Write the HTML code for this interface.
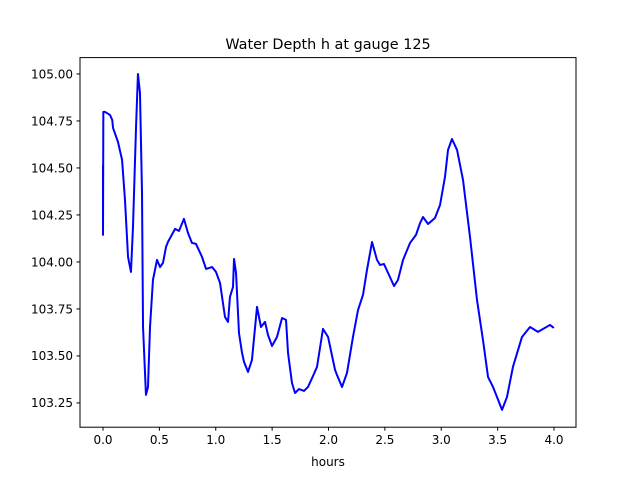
<!DOCTYPE html>
<html><head><meta charset="utf-8"><style>
html,body{margin:0;padding:0;background:#fff;}
svg{display:block;font-family:"DejaVu Sans","Liberation Sans",sans-serif;}
</style></head><body>
<svg id="chart" width="640" height="480" viewBox="0 0 640 480">
<rect width="640" height="480" fill="#fff"/>
<text x="328" y="49" font-size="14.4" text-anchor="middle">Water Depth h at gauge 125</text>
<g id="xticks"></g>
<g id="yticks"></g>
<polyline id="line" fill="none" stroke="#0000ff" stroke-width="2" stroke-linejoin="round"/>
<rect x="80" y="57.6" width="496" height="369.6" fill="none" stroke="#000" stroke-width="1"/>
<text x="328" y="466" font-size="12" text-anchor="middle">hours</text>
</svg>
<script>
const hours = [0,0,0.003,0.018,0.062,0.082,0.089,0.133,0.169,0.195,0.222,0.248,0.266,0.293,0.310,0.328,0.346,0.355,0.381,0.399,0.417,0.443,0.479,0.506,0.532,0.559,0.576,0.639,0.674,0.718,0.754,0.789,0.825,0.878,0.914,0.967,1.002,1.038,1.082,1.109,1.126,1.153,1.162,1.180,1.206,1.233,1.251,1.286,1.321,1.366,1.401,1.437,1.463,1.499,1.543,1.588,1.623,1.641,1.676,1.703,1.738,1.783,1.818,1.863,1.898,1.951,1.996,2.058,2.075,2.120,2.164,2.217,2.262,2.306,2.341,2.386,2.430,2.457,2.492,2.528,2.581,2.616,2.661,2.723,2.776,2.812,2.838,2.883,2.944,2.989,3.033,3.060,3.095,3.140,3.193,3.255,3.317,3.370,3.415,3.459,3.494,3.539,3.583,3.636,3.716,3.787,3.858,3.964,3.999];
const depth = [104.516,104.144,104.798,104.798,104.782,104.755,104.713,104.638,104.543,104.330,104.027,103.947,104.186,104.718,105.000,104.899,104.367,103.654,103.293,103.335,103.654,103.904,104.011,103.973,103.995,104.080,104.106,104.176,104.165,104.229,104.154,104.101,104.096,104.027,103.963,103.973,103.947,103.888,103.707,103.681,103.814,103.867,104.016,103.941,103.622,103.516,103.468,103.415,103.479,103.761,103.654,103.681,103.612,103.553,103.601,103.702,103.692,103.516,103.356,103.303,103.324,103.314,103.335,103.394,103.442,103.644,103.601,103.426,103.399,103.335,103.410,103.601,103.745,103.825,103.957,104.106,104.011,103.984,103.989,103.942,103.872,103.904,104.011,104.101,104.144,104.207,104.239,104.202,104.234,104.303,104.452,104.596,104.654,104.596,104.436,104.133,103.798,103.585,103.388,103.335,103.282,103.213,103.282,103.442,103.601,103.654,103.628,103.665,103.649];
const xTickVals = [0,0.5,1,1.5,2,2.5,3,3.5,4];
const xTickLabels = ["0.0","0.5","1.0","1.5","2.0","2.5","3.0","3.5","4.0"];
const yTickVals = [103.25,103.5,103.75,104,104.25,104.5,104.75,105];
const yTickLabels = ["103.25","103.50","103.75","104.00","104.25","104.50","104.75","105.00"];

const X0=80,X1=576,Y0=57.6,Y1=427.2;
const xMin=-0.204,xMax=4.195,yMin=103.121,yMax=105.087;
const sx=v=>X0+(v-xMin)/(xMax-xMin)*(X1-X0);
const sy=v=>Y1-(v-yMin)/(yMax-yMin)*(Y1-Y0);
const NS="http://www.w3.org/2000/svg";

const line=document.getElementById('line');
line.setAttribute('points',hours.map((h,i)=>sx(h).toFixed(2)+','+sy(depth[i]).toFixed(2)).join(' '));

const xg=document.getElementById('xticks');
xTickVals.forEach((v,i)=>{
  const x=sx(v);
  const t=document.createElementNS(NS,'line');
  
  
  t.setAttribute('x1',x);t.setAttribute('x2',x);t.setAttribute('y1',Y1);t.setAttribute('y2',Y1+3.5);
  t.setAttribute('stroke','#000');
  xg.appendChild(t);
  const tx=document.createElementNS(NS,'text');
  
  
  tx.setAttribute('x',x);tx.setAttribute('y',Y1+17);
  tx.setAttribute('font-size','12');tx.setAttribute('text-anchor','middle');
  tx.textContent=xTickLabels[i];
  xg.appendChild(tx);
});
const yg=document.getElementById('yticks');
yTickVals.forEach((v,i)=>{
  const y=sy(v);
  const t=document.createElementNS(NS,'line');
  
  
  t.setAttribute('x1',X0-3.5);t.setAttribute('x2',X0);t.setAttribute('y1',y);t.setAttribute('y2',y);
  t.setAttribute('stroke','#000');
  yg.appendChild(t);
  const tx=document.createElementNS(NS,'text');
  
  
  tx.setAttribute('x',X0-7);tx.setAttribute('y',y+4.3);
  tx.setAttribute('font-size','12');tx.setAttribute('text-anchor','end');
  tx.textContent=yTickLabels[i];
  yg.appendChild(tx);
});
</script>
</body></html>
